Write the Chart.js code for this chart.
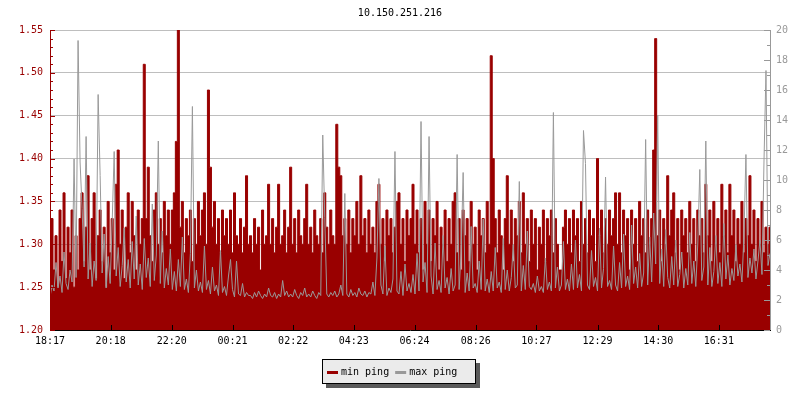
<!DOCTYPE html>
<html>
<head>
<meta charset="utf-8">
<title>10.150.251.216</title>
<script src="https://cdn.jsdelivr.net/npm/chart.js@4.4.1/dist/chart.umd.min.js"></script>
<style>
  body { margin: 0; background: #fff; }
  canvas { display: block; }
</style>
</head>
<body>
<canvas id="pingChart" width="800" height="400"></canvas>
<script>
// Host and time axis
const chartTitle = "10.150.251.216";
const tickLabels = ["18:17", "20:18", "22:20", "00:21", "02:22", "04:23",
                    "06:24", "08:26", "10:27", "12:29", "14:30", "16:31"];
const sampleMinutes = 4;

// min ping (left axis), one value per sample
const minPing = [
  1.30,1.33,1.27,1.31,1.25,1.34,1.28,1.36,1.26,1.32,1.29,1.34,1.25,1.31,1.27,1.33,1.36,1.28,1.32,1.38,
  1.27,1.33,1.36,1.26,1.31,1.34,1.28,1.32,1.25,1.35,1.29,1.33,1.27,1.37,1.41,1.30,1.34,1.26,1.32,1.36,
  1.29,1.35,1.31,1.27,1.34,1.30,1.33,1.51,1.33,1.39,1.31,1.28,1.34,1.36,1.30,1.33,1.29,1.35,1.31,1.34,
  1.30,1.34,1.36,1.42,1.55,1.32,1.35,1.29,1.33,1.31,1.34,1.28,1.33,1.30,1.35,1.31,1.34,1.36,1.30,1.48,
  1.39,1.32,1.35,1.30,1.33,1.29,1.34,1.31,1.33,1.30,1.34,1.29,1.36,1.31,1.30,1.33,1.29,1.32,1.38,1.30,
  1.31,1.29,1.33,1.30,1.32,1.27,1.34,1.30,1.31,1.37,1.30,1.33,1.29,1.32,1.37,1.30,1.31,1.34,1.29,1.32,
  1.39,1.30,1.33,1.29,1.34,1.31,1.30,1.33,1.37,1.30,1.32,1.29,1.34,1.31,1.30,1.33,1.29,1.36,1.32,1.30,
  1.34,1.31,1.30,1.44,1.39,1.38,1.31,1.33,1.30,1.34,1.29,1.33,1.31,1.35,1.30,1.38,1.31,1.33,1.29,1.34,
  1.30,1.32,1.29,1.35,1.37,1.30,1.33,1.28,1.34,1.31,1.33,1.29,1.32,1.35,1.36,1.30,1.33,1.28,1.34,1.31,
  1.33,1.37,1.30,1.34,1.29,1.33,1.27,1.35,1.30,1.34,1.28,1.33,1.31,1.35,1.27,1.32,1.30,1.34,1.28,1.33,
  1.30,1.35,1.36,1.29,1.33,1.27,1.34,1.31,1.33,1.28,1.35,1.30,1.32,1.27,1.34,1.31,1.33,1.29,1.35,1.30,
  1.52,1.40,1.33,1.29,1.34,1.31,1.27,1.33,1.38,1.30,1.34,1.28,1.33,1.31,1.35,1.29,1.36,1.30,1.33,1.28,
  1.34,1.30,1.33,1.27,1.32,1.30,1.34,1.28,1.33,1.31,1.34,1.29,1.33,1.30,1.27,1.27,1.32,1.34,1.30,1.33,
  1.29,1.34,1.31,1.33,1.28,1.35,1.30,1.33,1.29,1.34,1.31,1.33,1.28,1.40,1.31,1.34,1.29,1.33,1.30,1.34,
  1.31,1.33,1.36,1.30,1.36,1.29,1.34,1.31,1.33,1.27,1.34,1.30,1.33,1.28,1.35,1.31,1.33,1.29,1.34,1.30,
  1.33,1.41,1.54,1.31,1.34,1.28,1.33,1.30,1.38,1.31,1.34,1.36,1.29,1.33,1.27,1.34,1.31,1.33,1.29,1.35,
  1.30,1.33,1.28,1.34,1.31,1.33,1.29,1.37,1.31,1.34,1.28,1.35,1.30,1.33,1.29,1.37,1.31,1.34,1.29,1.37,
  1.31,1.34,1.28,1.33,1.30,1.35,1.29,1.33,1.31,1.38,1.30,1.34,1.28,1.33,1.30,1.35,1.29,1.32,1.30,1.32
];

// max ping (right axis)
const maxPing = [
  2.2,3.0,2.6,4.5,2.8,3.6,2.5,5.2,3.1,2.7,4.0,3.2,11.4,3.5,19.3,11.2,8.1,4.2,12.9,3.4,
  5.8,2.9,4.6,3.3,15.7,10.3,3.8,6.4,2.8,4.9,3.1,7.2,11.9,3.6,5.5,2.9,4.3,6.8,3.2,4.7,
  2.8,5.9,3.4,7.6,3.0,4.4,2.7,6.1,3.5,4.8,2.9,8.4,3.3,5.0,12.6,3.1,6.6,2.8,4.1,3.0,
  5.4,2.7,3.9,2.6,4.7,2.9,6.2,2.7,3.4,2.5,5.1,14.9,2.8,4.0,2.6,3.2,2.5,5.6,2.7,3.3,
  2.4,4.2,2.6,3.0,2.3,5.3,2.5,2.9,2.3,3.6,4.7,2.7,2.2,4.6,2.4,2.3,3.1,2.2,2.5,2.3,
  2.3,2.1,2.5,2.2,2.6,2.3,2.1,2.4,2.2,2.8,2.3,2.2,2.5,2.1,2.4,2.2,3.3,2.3,2.6,2.2,
  2.4,2.2,2.7,2.3,2.1,2.5,2.3,2.8,2.2,2.4,2.2,2.6,2.3,2.1,2.5,2.3,13.0,7.5,2.4,2.2,
  2.5,2.3,2.6,2.2,2.4,3.0,2.3,9.1,2.4,2.2,2.7,2.3,2.5,2.2,2.8,2.4,2.3,2.6,2.2,2.5,
  2.4,3.2,2.3,4.8,10.1,3.0,2.4,5.6,2.3,2.8,2.5,3.4,11.9,2.6,2.4,3.9,2.3,4.4,2.6,3.1,
  2.5,3.7,2.4,5.1,2.6,13.9,3.2,4.5,2.5,12.9,3.6,2.4,5.8,2.7,3.3,2.5,6.3,2.8,3.5,2.4,
  4.1,2.6,3.0,11.7,2.7,5.2,10.5,2.5,3.8,2.6,6.9,2.8,3.1,2.5,4.6,2.7,7.4,2.6,3.4,2.5,
  3.9,2.6,5.5,2.8,3.2,2.5,6.1,2.7,4.0,2.6,3.5,5.7,2.8,3.0,9.9,2.6,4.3,2.7,6.6,2.9,
  2.7,3.1,2.5,3.6,2.6,2.9,2.5,4.8,2.7,3.2,2.6,14.5,2.8,4.2,2.6,3.0,5.9,2.7,3.4,2.6,
  4.4,2.7,6.0,2.8,3.7,2.6,13.3,11.1,3.0,2.7,5.3,2.9,3.5,2.6,6.8,2.8,4.1,10.2,2.9,3.3,
  2.7,5.6,3.0,2.6,4.5,2.8,6.4,2.9,3.6,2.7,7.0,3.1,4.2,2.8,5.1,2.9,3.8,12.7,3.0,6.2,
  3.2,7.8,4.4,14.3,3.1,5.4,2.9,6.7,3.5,2.8,4.9,3.0,6.0,2.9,3.7,5.2,2.8,4.1,3.0,6.5,
  3.1,4.6,2.9,5.8,10.7,3.3,4.2,12.6,3.0,5.5,2.9,3.9,6.3,3.1,4.5,2.9,7.1,3.4,5.0,3.0,
  4.1,3.3,5.7,3.6,4.4,3.2,6.2,11.7,3.5,4.8,3.8,5.4,3.4,4.6,6.0,3.7,11.2,17.3,4.3,5.1
];

const RED = '#990000';
const GRAY = '#999999';

// minutes since first label for every tick label
const toMin = s => { const [h, m] = s.split(':').map(Number); return h * 60 + m; };
const tickMinutes = tickLabels.map(l => (toMin(l) - toMin(tickLabels[0]) + 1440) % 1440);

Chart.defaults.font.family = "'DejaVu Sans Mono', monospace";
Chart.defaults.font.size = 10;

// axis lines and inward tick marks, drawn over the data
const axisMarks = {
  id: 'axisMarks',
  afterDatasetsDraw(chart) {
    const { ctx, chartArea: a, scales } = chart;
    ctx.save();
    ctx.lineWidth = 1;

    ctx.strokeStyle = '#000';
    ctx.beginPath();
    ctx.moveTo(a.left, a.bottom + 0.5);
    ctx.lineTo(a.right + 1, a.bottom + 0.5);
    tickMinutes.forEach(m => {
      const px = Math.round(scales.x.getPixelForValue(m)) + 0.5;
      ctx.moveTo(px, a.bottom);
      ctx.lineTo(px, a.bottom - 5);
    });
    ctx.stroke();

    ctx.strokeStyle = RED;
    ctx.beginPath();
    ctx.moveTo(a.left + 0.5, a.top);
    ctx.lineTo(a.left + 0.5, a.bottom);
    for (let k = 0; k <= 35; k++) {
      const py = Math.round(scales.y.getPixelForValue(1.20 + k * 0.01)) + 0.5;
      ctx.moveTo(a.left, py);
      ctx.lineTo(a.left + (k % 5 === 0 ? 5 : 3), py);
    }
    ctx.stroke();

    ctx.strokeStyle = GRAY;
    ctx.beginPath();
    ctx.moveTo(a.right + 0.5, a.top);
    ctx.lineTo(a.right + 0.5, a.bottom);
    for (let k = 0; k <= 20; k++) {
      const py = Math.round(scales.y1.getPixelForValue(k)) + 0.5;
      ctx.moveTo(a.right, py);
      ctx.lineTo(a.right - (k % 2 === 0 ? 6 : 3), py);
    }
    ctx.stroke();
    ctx.restore();
  }
};

// boxed legend with a drop shadow under the x axis
const boxLegend = {
  id: 'boxLegend',
  afterDraw(chart) {
    const { ctx } = chart;
    const box = { x: 322, y: 359, w: 153, h: 24 };
    ctx.save();
    ctx.fillStyle = '#5a5a5a';
    ctx.fillRect(box.x + 4, box.y + 4, box.w + 1, box.h + 1);
    ctx.fillStyle = '#ebebeb';
    ctx.fillRect(box.x, box.y, box.w, box.h);
    ctx.strokeStyle = '#000';
    ctx.lineWidth = 1;
    ctx.strokeRect(box.x + 0.5, box.y + 0.5, box.w, box.h);

    ctx.font = "10px 'DejaVu Sans Mono', monospace";
    ctx.textBaseline = 'alphabetic';
    let x = box.x + 5;
    chart.data.datasets.forEach(ds => {
      ctx.fillStyle = ds.borderColor;
      ctx.fillRect(x, 371, 11, 3);
      ctx.fillStyle = '#000';
      ctx.fillText(ds.label, x + 14, 375);
      x += 14 + ctx.measureText(ds.label).width + 6;
    });
    ctx.restore();
  }
};

new Chart(document.getElementById('pingChart'), {
  type: 'line',
  data: {
    datasets: [
      {
        label: 'min ping',
        data: minPing.map((v, i) => ({ x: i * sampleMinutes, y: v })),
        yAxisID: 'y',
        borderColor: RED,
        backgroundColor: RED,
        borderWidth: 1,
        fill: 'start',
        stepped: 'middle',
        pointRadius: 0,
        order: 1
      },
      {
        label: 'max ping',
        data: maxPing.map((v, i) => ({ x: i * sampleMinutes, y: v })),
        yAxisID: 'y1',
        borderColor: GRAY,
        borderWidth: 1,
        fill: false,
        pointRadius: 0,
        order: 0
      }
    ]
  },
  options: {
    responsive: false,
    animation: false,
    devicePixelRatio: 1,
    layout: { padding: 0 },
    plugins: {
      legend: { display: false },
      tooltip: { enabled: false },
      title: {
        display: true,
        text: chartTitle,
        color: '#000',
        font: { size: 10, weight: 'normal' },
        padding: { top: 7, bottom: 11 }
      }
    },
    scales: {
      x: {
        type: 'linear',
        min: 0,
        max: (minPing.length - 1) * sampleMinutes,
        afterBuildTicks: s => { s.ticks = tickMinutes.map(v => ({ value: v })); },
        afterFit: s => { s.height = 70; },
        ticks: {
          autoSkip: false,
          maxRotation: 0,
          color: '#000',
          padding: 5,
          callback: (v, i) => tickLabels[i]
        },
        grid: { drawOnChartArea: false, drawTicks: false },
        border: { display: false }
      },
      y: {
        position: 'left',
        min: 1.20,
        max: 1.55,
        afterFit: s => { s.width = 50; },
        ticks: {
          stepSize: 0.05,
          color: RED,
          padding: 7,
          callback: v => v.toFixed(2)
        },
        grid: {
          drawTicks: false,
          color: c => Math.abs(c.tick.value - 1.2) < 1e-6 ? 'rgba(0,0,0,0)' : '#bebebe'
        },
        border: { display: false }
      },
      y1: {
        position: 'right',
        min: 0,
        max: 20,
        afterFit: s => { s.width = 30; },
        ticks: { stepSize: 2, color: GRAY, padding: 6 },
        grid: { drawOnChartArea: false, drawTicks: false },
        border: { display: false }
      }
    }
  },
  plugins: [axisMarks, boxLegend]
});
</script>
</body>
</html>
